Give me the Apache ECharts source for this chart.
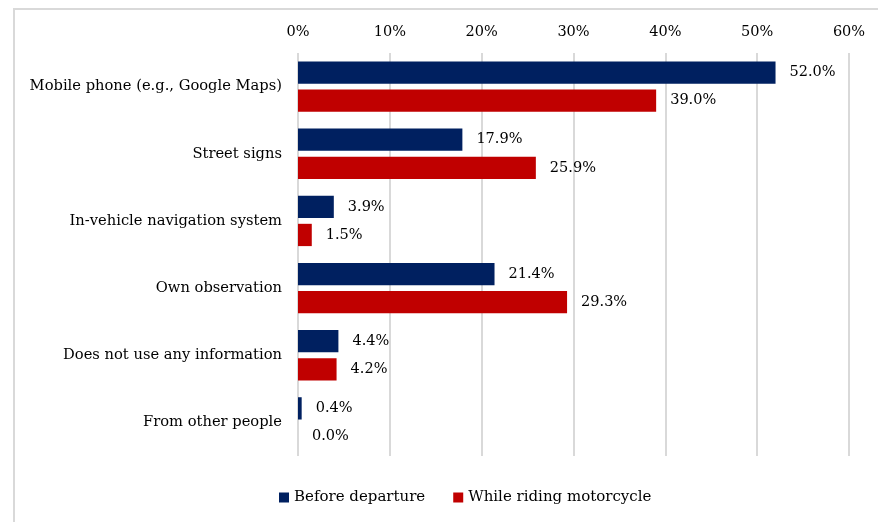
<!DOCTYPE html>
<html>
<head>
<meta charset="utf-8">
<script src="https://cdn.jsdelivr.net/npm/echarts@6/dist/echarts.min.js"></script>
<style>
html,body{margin:0;padding:0;background:#fff;}
#chart{width:878px;height:522px;}
</style>
</head>
<body>
<div id="chart"></div>
<script>
const categories = [
  "Mobile phone (e.g., Google Maps)",
  "Street signs",
  "In-vehicle navigation system",
  "Own observation",
  "Does not use any information",
  "From other people"
];
const beforeDeparture = [52.0, 17.9, 3.9, 21.4, 4.4, 0.4];
const whileRiding = [39.0, 25.9, 1.5, 29.3, 4.2, 0.0];
const seriesNames = ["Before departure", "While riding motorcycle"];
const xTicks = [0, 10, 20, 30, 40, 50, 60];

const FONT = "DejaVu Serif";
const chart = echarts.init(document.getElementById('chart'));
const labelCfg = {
  show: true,
  position: 'right',
  distance: 14,
  formatter: p => p.value.toFixed(1) + '%',
  fontFamily: FONT,
  fontSize: 14.5,
  color: '#000'
};
chart.setOption({
  animation: false,
  textStyle: {fontFamily: FONT},
  graphic: [{
    type: 'rect',
    shape: {x: 14, y: 9, width: 900, height: 560},
    style: {fill: 'none', stroke: '#D9D9D9', lineWidth: 2},
    silent: true
  }],
  grid: {left: 298, right: 29, top: 53, bottom: 66, containLabel: false},
  legend: {
    bottom: 12,
    left: 274,
    itemWidth: 10,
    itemHeight: 10,
    itemGap: 28,
    icon: 'rect',
    textStyle: {fontFamily: FONT, fontSize: 15, color: '#000'},
    data: seriesNames
  },
  xAxis: {
    type: 'value',
    position: 'top',
    min: xTicks[0],
    max: xTicks[xTicks.length - 1],
    interval: 10,
    axisLine: {show: false},
    axisTick: {show: false},
    axisLabel: {formatter: v => v + '%', fontFamily: FONT, fontSize: 14.5, color: '#000', margin: 13},
    splitLine: {show: true, lineStyle: {color: '#D9D9D9', width: 2}}
  },
  yAxis: {
    type: 'category',
    inverse: true,
    data: categories,
    axisLine: {show: false},
    axisTick: {show: false},
    axisLabel: {fontFamily: FONT, fontSize: 14.7, color: '#000', margin: 16}
  },
  series: [
    {
      name: seriesNames[0],
      type: 'bar',
      data: beforeDeparture,
      barGap: '26%',
      barCategoryGap: '25%',
      itemStyle: {color: '#002060'},
      label: labelCfg
    },
    {
      name: seriesNames[1],
      type: 'bar',
      data: whileRiding,
      barGap: '26%',
      barCategoryGap: '25%',
      itemStyle: {color: '#C00000'},
      label: labelCfg
    }
  ]
});
</script>
</body>
</html>
